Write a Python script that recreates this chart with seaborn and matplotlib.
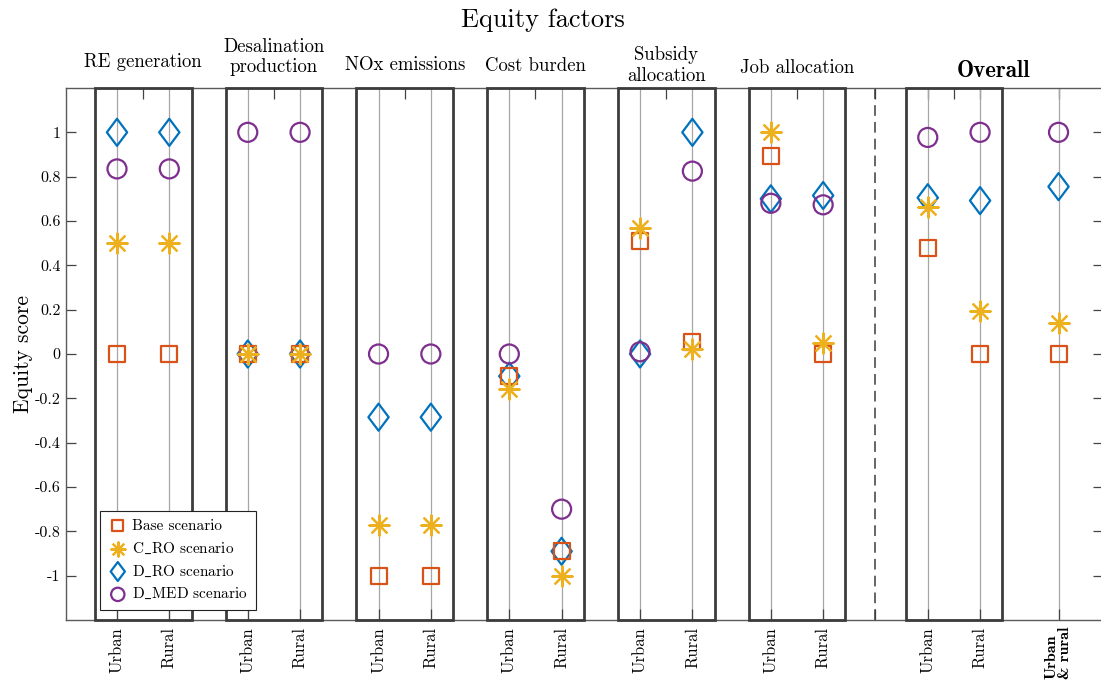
import numpy as np
import pandas as pd
import matplotlib
matplotlib.use("Agg")
import matplotlib.pyplot as plt
from matplotlib.path import Path
from matplotlib.patches import Rectangle
from matplotlib.font_manager import FontProperties
import seaborn as sns

# ---- data -------------------------------------------------------------
factors = ["RE generation", "Desalination\nproduction", "NOx emissions",
           "Cost burden", "Subsidy\nallocation", "Job allocation", "Overall"]
regions = ["Urban", "Rural"]
combined_label = "Urban\n& rural"

scenarios = ["Base scenario", "C_RO scenario", "D_RO scenario", "D_MED scenario"]

# one value per column: (Urban, Rural) for each factor incl. Overall, then Urban & rural
base_vals = [0.0, 0.0, 0.0, 0.0, -1.0, -1.0, -0.10, -0.89, 0.51, 0.055,
             0.895, 0.0, 0.48, 0.0, 0.0]
c_ro_vals = [0.5, 0.5, 0.0, 0.0, -0.77, -0.77, -0.16, -1.0, 0.57, 0.022,
             1.0, 0.048, 0.665, 0.193, 0.142]
d_ro_vals = [1.0, 1.0, 0.0, 0.0, -0.285, -0.285, -0.10, -0.89, 0.0, 1.0,
             0.70, 0.715, 0.705, 0.692, 0.755]
d_med_vals = [0.835, 0.835, 1.0, 1.0, 0.0, 0.0, 0.0, -0.70, 0.01, 0.825,
              0.68, 0.673, 0.977, 1.0, 1.0]

y_ticks = [-1, -0.8, -0.6, -0.4, -0.2, 0, 0.2, 0.4, 0.6, 0.8, 1]

# ---- layout -----------------------------------------------------------
pair_step = 2      # distance Urban -> Rural
group_step = 5     # distance between factor groups
factor_x = [i * group_step for i in range(len(factors) - 1)]
overall_x = factor_x[-1] + 6
group_starts = factor_x + [overall_x]
xpos = []
for g in group_starts:
    xpos += [g, g + pair_step]
combined_x = overall_x + 5
xpos.append(combined_x)
divider_x = factor_x[-1] + pair_step + 2

xlabels = regions * len(factors) + [combined_label]

frames = []
for name, vals in zip(scenarios, [base_vals, c_ro_vals, d_ro_vals, d_med_vals]):
    frames.append(pd.DataFrame({"x": xpos, "score": vals, "scenario": name}))
df = pd.concat(frames, ignore_index=True)

# ---- style ------------------------------------------------------------
sns.set_theme(style="white")
plt.rcParams["font.family"] = ["cmr10", "DejaVu Serif"]
plt.rcParams["axes.unicode_minus"] = False
plt.rcParams["mathtext.fontset"] = "cm"
for key in ["text.color", "axes.labelcolor", "xtick.labelcolor", "ytick.labelcolor"]:
    plt.rcParams[key] = "black"

colors = {"Base scenario": "#D95319", "C_RO scenario": "#EDB120",
          "D_RO scenario": "#0072BD", "D_MED scenario": "#7E2F8E"}
diamond = Path([(0, 1), (0.75, 0), (0, -1), (-0.75, 0), (0, 1)],
               [Path.MOVETO, Path.LINETO, Path.LINETO, Path.LINETO, Path.CLOSEPOLY])
markers = {"Base scenario": "s", "C_RO scenario": (8, 2, 0),
           "D_RO scenario": diamond, "D_MED scenario": "o"}
msize = {"Base scenario": 11.5, "C_RO scenario": 14.5,
         "D_RO scenario": 19.5, "D_MED scenario": 13.7}
zorders = {"Base scenario": 5, "C_RO scenario": 6,
           "D_RO scenario": 4, "D_MED scenario": 7}
legend_names = {"Base scenario": "Base scenario",
                "C_RO scenario": r"C$\_$RO scenario",
                "D_RO scenario": r"D$\_$RO scenario",
                "D_MED scenario": r"D$\_$MED scenario"}

fig = plt.figure(figsize=(11.01, 6.81), dpi=100)
ax = fig.add_axes([66 / 1101, 61 / 681, 1037 / 1101, 532 / 681])

for name in scenarios:
    sub = df[df["scenario"] == name]
    if name == "C_RO scenario":
        # line-only asterisk marker
        sns.scatterplot(data=sub, x="x", y="score", ax=ax, marker=markers[name],
                        s=msize[name] ** 2, color=colors[name],
                        linewidths=1.6, zorder=zorders[name],
                        label=legend_names[name])
    else:
        sns.scatterplot(data=sub, x="x", y="score", ax=ax, marker=markers[name],
                        s=msize[name] ** 2, facecolors="none",
                        edgecolors=colors[name], color=colors[name],
                        linewidths=1.6, zorder=zorders[name],
                        label=legend_names[name])

ax.set_xlim(-1.95, 37.7)
ax.set_ylim(-1.2, 1.2)

# grid lines at each column
ax.set_xticks(xpos)
ax.set_xticklabels(xlabels, rotation=90, fontsize=12)
ax.set_xticks([divider_x], minor=True)
ax.grid(axis="x", which="major", color="#a6a6a6", lw=0.9, zorder=1)
ax.grid(axis="y", visible=False)
ax.set_axisbelow(True)
last = ax.get_xticklabels()[-1]
last.set_fontproperties(FontProperties(family="cmb10", size=11.5))
last.set_multialignment("left")
last.set_linespacing(0.95)

ax.set_yticks(y_ticks)
ax.set_yticklabels([f"{v:g}" for v in y_ticks], fontsize=11.5)
ax.tick_params(axis="x", which="both", direction="in", length=8, width=0.9,
               color="#444444", labelcolor="black", pad=5, bottom=True)
ax.tick_params(axis="y", direction="in", length=7, width=0.9, color="#444444",
               labelcolor="black", left=True, right=True, pad=4)
ax.set_xlabel("")
ax.set_ylabel("Equity score", fontsize=15.5, labelpad=1, color="black")

for sp in ax.spines.values():
    sp.set_color("#5a5a5a")
    sp.set_linewidth(1.0)

# top tick marks at group centres
top = ax.secondary_xaxis("top")
top_ticks = [g + pair_step / 2 for g in factor_x] + [divider_x, overall_x,
             overall_x + pair_step / 2, overall_x + pair_step, combined_x]
top.set_xticks(top_ticks)
top.set_xticklabels([])
top.tick_params(direction="in", length=8, width=0.9, color="#444444")
top.spines["top"].set_visible(False)

# frames around each Urban/Rural pair
trans = ax.get_xaxis_transform()
half_w = 1.85
for g in group_starts:
    c = g + pair_step / 2
    ax.add_patch(Rectangle((c - half_w, 0), 2 * half_w, 1, transform=trans,
                           fill=False, edgecolor="#3c3c3c", lw=2.0,
                           zorder=3, clip_on=False))

ax.axvline(divider_x, color="#3c3c3c", lw=1.1, ls=(0, (7, 4)), zorder=2)

# factor headings
head_y = [1.0489, 1.0583, 1.0432, 1.0414, 1.0423, 1.0376]
for g, name, yy in zip(factor_x, factors[:-1], head_y):
    ax.text(g + pair_step / 2, yy, name, transform=trans, ha="center",
            va="center", fontsize=13.5, linespacing=1.15, color="black")
ax.text(overall_x + 2.5, 1.032, factors[-1], transform=trans, ha="center",
        va="center", fontsize=16.5, family="cmb10", color="black")
ax.text(16.3, 1.1278, "Equity factors", transform=trans, ha="center",
        va="center", fontsize=19, color="black")

leg = ax.legend(loc="lower left", bbox_to_anchor=(0.033, 0.019),
                borderaxespad=0, fontsize=11, markerscale=0.7, frameon=True,
                fancybox=False, framealpha=1, edgecolor="#222222",
                handletextpad=0.3, labelspacing=0.5, borderpad=0.55,
                handlelength=1.2)
leg.get_frame().set_linewidth(0.8)
leg.set_zorder(10)

fig.savefig("out.png", dpi=100)
